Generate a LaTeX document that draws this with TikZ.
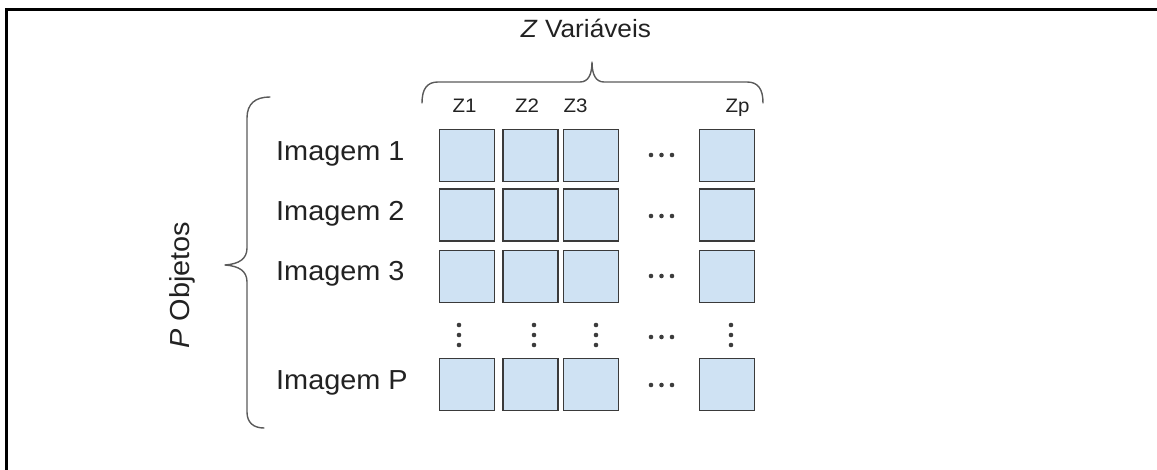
\documentclass[tikz,border=0pt]{standalone}
\usepackage{fontspec}
\setmainfont{Liberation Sans}[FakeStretch=1.05]
\begin{document}
\begin{tikzpicture}[x=1pt,y=-1pt,
  cell/.style={draw=cellline,line width=1.8pt,fill=cellfill,minimum width=55pt,minimum height=52pt,inner sep=0pt},
  rowlabel/.style={anchor=west,inner sep=0pt,text=ink,font=\fontsize{27.5}{30}\selectfont},
  collabel/.style={anchor=base,inner sep=0pt,text=ink,font=\fontsize{19.5}{22}\selectfont},
  bracepath/.style={draw=bracegray,line width=1.4pt,line cap=round,line join=round},
  dotmark/.style={fill=dotgray,draw=none}]
\definecolor{cellfill}{HTML}{CFE2F3}
\definecolor{cellline}{HTML}{3A3A3A}
\definecolor{ink}{HTML}{222222}
\definecolor{bracegray}{HTML}{5A5A5A}
\definecolor{dotgray}{HTML}{3C3C3C}
\useasboundingbox (0,0) rectangle (1157,470);

% frame edges (top and left)
\draw[line width=2.6pt,black] (6.5,470) -- (6.5,9.5) -- (1157,9.5);

% column headers
\node[anchor=base,inner sep=0pt,text=ink,font=\fontsize{25}{28}\selectfont] (title) at (586,38) {\textit{Z} Variáveis};
\node[collabel] (h1) at (464.5,113) {Z1};
\node[collabel] (h2) at (527,113) {Z2};
\node[collabel] (h3) at (575.5,113) {Z3};
\node[collabel] (hp) at (737.5,113) {Zp};

% top brace
\path[bracepath] (422,103) .. controls (422,89) and (427,82) .. (438,82) -- (580,82)
  .. controls (588,82) and (592,75) .. (592,62)
  .. controls (592,75) and (596,82) .. (604,82) -- (747,82)
  .. controls (758,82) and (763,89) .. (763,103);

% left brace
\path[bracepath] (270,97) .. controls (255,97) and (247,104) .. (247,118) -- (247,248)
  .. controls (247,259) and (239,264) .. (225,265)
  .. controls (239,266) and (247,271) .. (247,282) -- (247,412)
  .. controls (247,423) and (254,428) .. (264,428);
\node[rotate=90,inner sep=0pt,text=ink,font=\fontsize{27.5}{30}\selectfont] (objs) at (182,285) {\textit{P} Objetos};

% row labels
\node[rowlabel] (r1) at (276,154) {Imagem 1};
\node[rowlabel] (r2) at (276,214) {Imagem 2};
\node[rowlabel] (r3) at (276,274) {Imagem 3};
\node[rowlabel] (rp) at (276,383) {Imagem P};

% matrix cells
\foreach \r/\y in {1/155.5,2/215,3/276.5,p/384.5}{
  \foreach \c/\x in {1/467,2/530.5,3/591,p/727}{
    \node[cell] (c\r\c) at (\x,\y) {};
  }
}

% horizontal ellipses
\foreach \y in {155,216,276,337,385}{
  \foreach \x in {651,661.5,672}{
    \fill[dotmark] (\x,\y) circle (2.3pt);
  }
}
% vertical ellipses
\foreach \x in {459,534,596,731}{
  \foreach \y in {325,335,345}{
    \fill[dotmark] (\x,\y) circle (2.3pt);
  }
}
\end{tikzpicture}
\end{document}
